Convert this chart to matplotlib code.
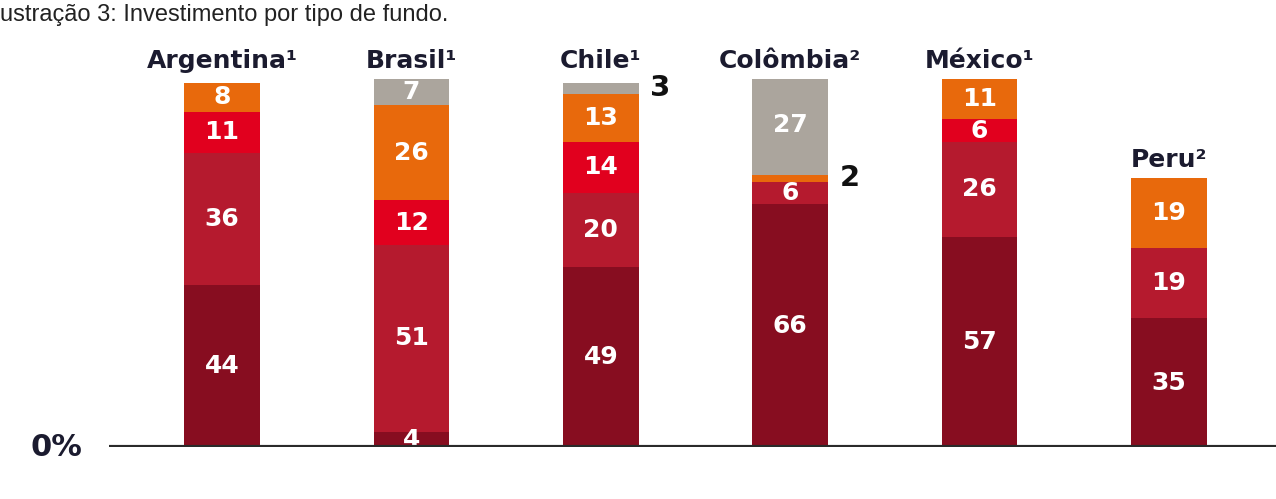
import matplotlib.pyplot as plt
import numpy as np

# dados (% por tipo de fundo, de baixo para cima)
paises = ['Argentina¹', 'Brasil¹', 'Chile¹', 'Colômbia²', 'México¹', 'Peru²']
fundo_a = [44, 4, 49, 66, 57, 35]
fundo_b = [36, 51, 20, 6, 26, 19]
fundo_c = [11, 12, 14, 0, 6, 0]
fundo_d = [8, 26, 13, 2, 11, 19]
fundo_e = [0, 7, 3, 27, 0, 0]

series = [fundo_a, fundo_b, fundo_c, fundo_d, fundo_e]
cores = ['#870D20', '#B51A2E', '#E1001E', '#E8690C', '#ABA59D']

W, H = 1276, 499
fig = plt.figure(figsize=(W / 100, H / 100), dpi=100)
ax = fig.add_axes([109 / W, 52 / H, (W - 109) / W, 368 / H])

x = np.arange(len(paises))
base = np.zeros(len(paises))
largura = 0.4
for k, (vals, cor) in enumerate(zip(series, cores)):
    vals = np.array(vals, dtype=float)
    ax.bar(x, vals, largura, bottom=base, color=cor, linewidth=0, zorder=2)
    for i, v in enumerate(vals):
        if v <= 0:
            continue
        if v < 4:
            # valores pequenos fora da barra
            ax.text(x[i] + largura / 2 + 0.06, base[i] + v / 2, str(int(v)),
                    ha='left', va='center', color='#111111', fontsize=21,
                    fontweight='bold', family='DejaVu Sans', clip_on=False)
        else:
            ax.text(x[i], base[i] + v / 2, str(int(v)), ha='center', va='center',
                    color='white', fontsize=18, fontweight='bold', family='DejaVu Sans')
    base += vals

for i, p in enumerate(paises):
    topo = 100 if base[i] >= 95 else base[i]
    ax.text(x[i], topo + 1.6, p, ha='center', va='bottom', color='#1b1b2f',
            fontsize=18, fontweight='bold', family='DejaVu Sans', clip_on=False)

ax.axhline(0, color='#2a2a2a', lw=3, zorder=3)
ax.set_xlim(-0.597, 5.565)
ax.set_ylim(0, 100)
ax.axis('off')

fig.text(30 / W, 1 - 447 / H, '0%', ha='left', va='center', color='#1b1b2f',
         fontsize=22, fontweight='bold', family='DejaVu Sans')
fig.text(0, 1 - 15 / H, 'ustração 3: Investimento por tipo de fundo.', ha='left',
         va='center', fontsize=17, family='Liberation Sans', color='#222222')

fig.savefig('out.png', dpi=100)
